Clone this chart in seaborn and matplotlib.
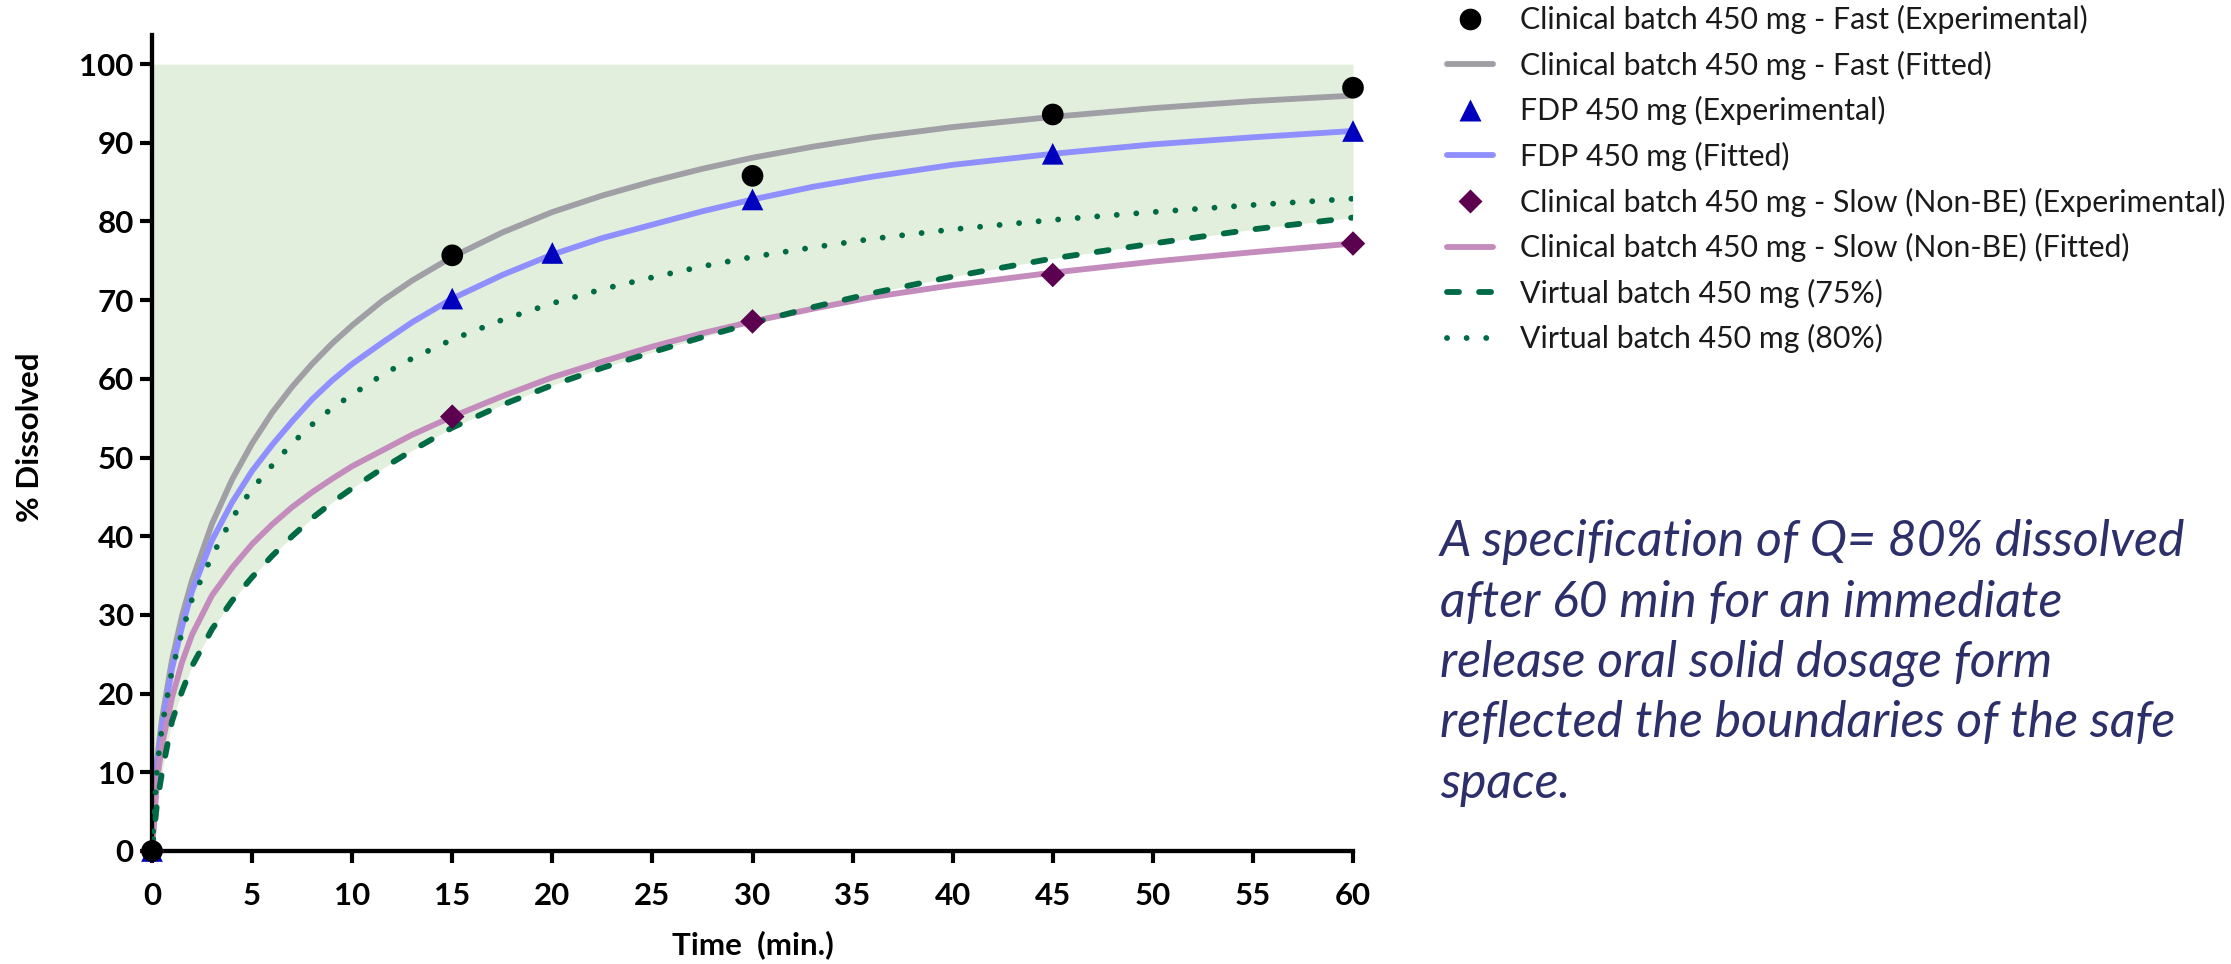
import matplotlib
matplotlib.use("Agg")
import matplotlib.pyplot as plt
from matplotlib.lines import Line2D
import numpy as np
import pandas as pd
import seaborn as sns

# ---------------- data ----------------
fit_time = [0, 0.25, 0.5, 1, 1.5, 2, 3, 4, 5, 6, 7, 8, 9, 10, 11.5, 13, 15, 17.5, 20, 22.5,
            25, 27.5, 30, 33, 36, 40, 45, 50, 55, 60]
fast_fit = [0, 11.5, 16.8, 24.3, 29.9, 34.4, 41.6, 47.2, 51.8, 55.7, 59.0, 61.9, 64.5, 66.8, 69.9,
            72.5, 75.5, 78.6, 81.2, 83.3, 85.1, 86.7, 88.1, 89.5, 90.7, 92.0, 93.3, 94.4, 95.3, 96.0]
fdp_fit = [0, 10.5, 15.8, 23.2, 28.5, 33.0, 39.5, 44.3, 48.3, 51.6, 54.6, 57.4, 59.8, 61.9, 64.6,
           67.2, 70.2, 73.2, 75.8, 77.9, 79.6, 81.3, 82.8, 84.4, 85.7, 87.2, 88.6, 89.8, 90.7, 91.5]
slow_fit = [0, 9.0, 13.5, 19.5, 24.0, 27.5, 32.5, 36.0, 39.0, 41.5, 43.7, 45.6, 47.3, 48.9, 50.9,
            52.9, 55.2, 57.8, 60.2, 62.2, 64.1, 65.8, 67.3, 68.9, 70.4, 71.9, 73.5, 74.9, 76.1, 77.2]
virtual_75 = [0, 6.0, 10.0, 16.5, 20.3, 23.5, 28.2, 31.8, 34.8, 37.5, 40.0, 42.3, 44.3, 46.1, 48.6,
              50.9, 53.8, 56.7, 59.2, 61.4, 63.4, 65.3, 67.1, 69.1, 70.9, 73.0, 75.3, 77.2, 79.0, 80.5]
virtual_80 = [0, 10.5, 15.8, 23.0, 27.8, 32.0, 37.5, 42.3, 46.0, 49.0, 51.8, 54.2, 56.3, 58.0, 60.5,
              62.6, 65.0, 67.5, 69.6, 71.4, 72.9, 74.3, 75.5, 76.7, 77.8, 79.0, 80.2, 81.2, 82.1, 82.9]

fast_time = [0, 15, 30, 45, 60]
fast_exp = [0, 75.7, 85.8, 93.6, 97.0]
fdp_time = [0, 15, 20, 30, 45, 60]
fdp_exp = [0, 70.2, 76.0, 82.8, 88.6, 91.5]
slow_time = [0, 15, 30, 45, 60]
slow_exp = [0, 55.2, 67.3, 73.2, 77.2]

safe_top = 100

legend_labels = [
    "Clinical batch 450 mg - Fast (Experimental)",
    "Clinical batch 450 mg - Fast (Fitted)",
    "FDP 450 mg (Experimental)",
    "FDP 450 mg (Fitted)",
    "Clinical batch 450 mg - Slow (Non-BE) (Experimental)",
    "Clinical batch 450 mg - Slow (Non-BE) (Fitted)",
    "Virtual batch 450 mg (75%)",
    "Virtual batch 450 mg (80%)",
]
x_ticks = list(range(0, 61, 5))
y_ticks = list(range(0, 101, 10))
note_lines = [
    "A specification of Q= 80% dissolved",
    "after 60 min for an immediate",
    "release oral solid dosage form",
    "reflected the boundaries of the safe",
    "space.",
]

# ---------------- style ----------------
sns.set_theme(style="ticks")
plt.rcParams["font.family"] = ["Lato", "DejaVu Sans"]

W, H, DPI = 2231, 964, 100
fig = plt.figure(figsize=(W / DPI, H / DPI), dpi=DPI)
fig.patch.set_facecolor("white")
ax = fig.add_axes([152 / W, 1 - 851 / H, (1353 - 152) / W, (851 - 35) / H])
ax.set_facecolor("white")

C_GRAY = "#a09fa6"
C_BLUE = "#8f8fff"
C_PINK = "#c48cbc"
C_GREEN = "#006a45"
C_SHADE = "#e2efdc"
C_TRI = "#0000bf"
C_DIA = "#5c0050"

LW = 4.2
DASH75 = (2.05, 3.45)
DOT80 = (0.01, 3.35)

# safe space shading
ax.fill_between(fit_time, virtual_75, [safe_top] * len(fit_time), color=C_SHADE, linewidth=0, zorder=0)

# fitted curves
df = pd.DataFrame({"t": fit_time, "fast": fast_fit, "fdp": fdp_fit, "slow": slow_fit,
                   "v75": virtual_75, "v80": virtual_80})
sns.lineplot(data=df, x="t", y="fast", color=C_GRAY, linewidth=LW, ax=ax, zorder=2)
sns.lineplot(data=df, x="t", y="fdp", color=C_BLUE, linewidth=LW, ax=ax, zorder=2)
sns.lineplot(data=df, x="t", y="slow", color=C_PINK, linewidth=LW, ax=ax, zorder=2)
sns.lineplot(data=df, x="t", y="v75", color=C_GREEN, linewidth=LW, ax=ax, zorder=3)
l75 = ax.lines[-1]
l75.set_dashes(DASH75)
l75.set_dash_capstyle("round")
sns.lineplot(data=df, x="t", y="v80", color=C_GREEN, linewidth=LW, ax=ax, zorder=3)
l80 = ax.lines[-1]
l80.set_dashes(DOT80)
l80.set_dash_capstyle("round")
for ln in ax.lines:
    ln.set_solid_joinstyle("round")

# experimental points
MS = 15.6
MS_D = 12.5
sns.scatterplot(x=slow_time, y=slow_exp, marker="D", s=MS_D ** 2, color=C_DIA, edgecolor="none",
                ax=ax, zorder=5, clip_on=False)
sns.scatterplot(x=fdp_time, y=fdp_exp, marker="^", s=MS ** 2, color=C_TRI, edgecolor="none",
                ax=ax, zorder=6, clip_on=False)
sns.scatterplot(x=fast_time, y=fast_exp, marker="o", s=MS ** 2, color="black", edgecolor="none",
                ax=ax, zorder=7, clip_on=False)

# axes
ax.set_xlim(0, 60)
ax.set_ylim(0, 103.7)
ax.set_xticks(x_ticks)
ax.set_yticks(y_ticks)
ax.set_xticklabels([str(v) for v in x_ticks])
ax.set_yticklabels([str(v) for v in y_ticks])
for s in ("top", "right"):
    ax.spines[s].set_visible(False)
for s in ("left", "bottom"):
    ax.spines[s].set_linewidth(3.1)
    ax.spines[s].set_color("black")
ax.tick_params(axis="both", direction="out", length=8.6, width=3.0, color="black",
               labelsize=22.5, labelcolor="black")
ax.tick_params(axis="x", pad=14)
ax.tick_params(axis="y", pad=4.5)
for lab in ax.get_xticklabels() + ax.get_yticklabels():
    lab.set_fontweight("bold")
ax.grid(False)

ax.set_xlabel("Time  (min.)", fontsize=22.5, fontweight="bold", color="black")
ax.set_ylabel("% Dissolved", fontsize=22.5, fontweight="bold", color="black")
ax.xaxis.set_label_coords(0.5, (851 - 945) / 816)
ax.xaxis.label.set_verticalalignment("center")
ax.yaxis.set_label_coords((30 - 152) / 1201, 0.507)
ax.yaxis.label.set_verticalalignment("center")

# legend
handles = [
    Line2D([], [], ls="none", marker="o", ms=MS, color="black", mec="none"),
    Line2D([], [], color=C_GRAY, lw=LW),
    Line2D([], [], ls="none", marker="^", ms=MS, color=C_TRI, mec="none"),
    Line2D([], [], color=C_BLUE, lw=LW),
    Line2D([], [], ls="none", marker="D", ms=MS_D, color=C_DIA, mec="none"),
    Line2D([], [], color=C_PINK, lw=LW),
    Line2D([], [], color=C_GREEN, lw=LW, dashes=DASH75, dash_capstyle="round"),
    Line2D([], [], color=C_GREEN, lw=LW, dashes=DOT80, dash_capstyle="round"),
]
FS_LEG = 21.8
fs_px = FS_LEG * DPI / 72
leg = fig.legend(handles, legend_labels, loc="upper left",
                 bbox_to_anchor=(1447 / W, 1 - 5 / H), frameon=False,
                 fontsize=FS_LEG, handlelength=46 / fs_px, handletextpad=27 / fs_px,
                 labelspacing=0.545, borderpad=0, borderaxespad=0, markerscale=1.0)
for t in leg.get_texts():
    t.set_color("#1a1a1a")

# annotation
for i, line in enumerate(note_lines):
    fig.text(1440 / W, 1 - (556 + 60.5 * i) / H, line, fontsize=36, style="italic",
             color="#2d2f6a", ha="left", va="baseline")

fig.savefig("out.png", dpi=DPI)
